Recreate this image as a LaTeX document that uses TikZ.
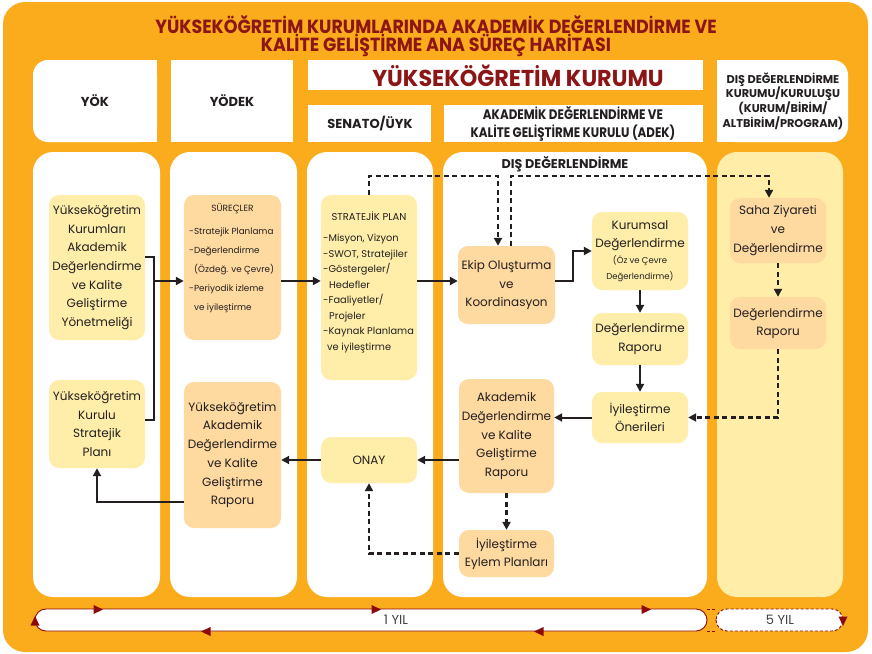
\documentclass[tikz,border=0pt]{standalone}
\usepackage{fontspec}
\setmainfont{Poppins}
\newfontfamily\condfont{Poppins}[FakeStretch=0.86]
\newfontfamily\titlefont{Poppins}[FakeStretch=0.92]
\newfontfamily\kurumfont{Poppins}[FakeStretch=0.97]
\usetikzlibrary{arrows.meta,calc}
\definecolor{frameor}{HTML}{FAAC1C}
\definecolor{lyel}{HTML}{FFEEAA}
\definecolor{peach}{HTML}{FED9A0}
\definecolor{maroon}{HTML}{8C1515}
\definecolor{dred}{HTML}{8B0A0A}
\definecolor{colv}{HTML}{FFEDA8}
\definecolor{ink}{HTML}{231F20}
\begin{document}
\begin{tikzpicture}[x=1pt,y=-1pt,
  box/.style={rounded corners=10pt, align=center, inner sep=0pt, text=ink, font=\fontsize{12}{18.7}\selectfont},
  ybox/.style={box, fill=lyel},
  pbox/.style={box, fill=peach},
  conn/.style={line width=2pt, draw=ink},
  arr/.style={conn, -{Triangle[length=8pt,width=8pt]}},
  darr/.style={arr, line width=2.4pt, dash pattern=on 5pt off 3.5pt},
  hdr/.style={font=\condfont\bfseries\fontsize{13.8}{18}\selectfont, align=center, text=ink, inner sep=0pt},
  colbox/.style={fill=white, rounded corners=20pt},
  tri/.pic={\fill[dred] (-4.5,-4.5) -- (5,0) -- (-4.5,4.5) -- cycle;},
]
\useasboundingbox (0,0) rectangle (872,653);
% outer frame
\fill[frameor, rounded corners=22pt] (3,2) rectangle (868,652);
% title
\node[font=\titlefont\bfseries\fontsize{19}{17}\selectfont, text=maroon, align=center, inner sep=0pt] (title) at (436,36)
  {YÜKSEKÖĞRETİM KURUMLARINDA AKADEMİK DEĞERLENDİRME VE\\KALİTE GELİŞTİRME ANA SÜREÇ HARİTASI};
% header boxes
\fill[white, rounded corners=15pt] (33,60) rectangle (157,142);
\fill[white] (70,60) rectangle (157,142);
\fill[white] (171,60) rectangle (293,142);
\fill[white] (308,60) rectangle (703,90);
\fill[white] (308,105) rectangle (431,142);
\fill[white] (444,105) rectangle (703,142);
\fill[white, rounded corners=15pt] (717,60) rectangle (848,142);
\fill[white] (717,60) rectangle (790,142);
\node[hdr, font=\bfseries\fontsize{13}{15}\selectfont] (hyok) at (95,101) {YÖK};
\node[hdr, font=\bfseries\fontsize{13}{15}\selectfont] (hyodek) at (232,101) {YÖDEK};
\node[hdr, font=\kurumfont\bfseries\fontsize{23}{24}\selectfont, text=maroon] (hkurum) at (518,76) {YÜKSEKÖĞRETİM KURUMU};
\node[hdr, font=\bfseries\fontsize{13}{15}\selectfont] (hsenato) at (370,124) {SENATO/ÜYK};
\node[hdr] (hadek) at (573,124) {AKADEMİK DEĞERLENDİRME VE\\KALİTE GELİŞTİRME KURULU (ADEK)};
\node[hdr, font=\bfseries\fontsize{11.3}{14.7}\selectfont] (hdis) at (783,101) {DIŞ DEĞERLENDİRME\\KURUMU/KURULUŞU\\(KURUM/BİRİM/\\ALTBİRİM/PROGRAM)};
% columns
\fill[colbox] (33,152) rectangle (160,597);
\fill[colbox] (170,152) rectangle (297,597);
\fill[colbox] (307,152) rectangle (433,597);
\fill[colbox] (443,152) rectangle (707,597);
\fill[colbox, fill=colv] (717,152) rectangle (843,597);
\node[hdr, font=\bfseries\fontsize{12.7}{14}\selectfont] (dislbl) at (565,164) {DIŞ DEĞERLENDİRME};
% column 1
\node[ybox, minimum width=96pt, minimum height=145pt] (A) at (97,267.5)
  {Yükseköğretim\\Kurumları\\Akademik\\Değerlendirme\\ve Kalite\\Geliştirme\\Yönetmeliği};
\node[ybox, minimum width=96pt, minimum height=88pt] (B) at (97,424)
  {Yükseköğretim\\Kurulu\\Stratejik\\Planı};
% column 2
\node[pbox, minimum width=97pt, minimum height=145pt] (S) at (232.5,267.5) {};
\node[inner sep=0pt, text=ink, font=\fontsize{9}{10}\selectfont] (Shead) at (232.5,209) {SÜREÇLER};
\node[inner sep=0pt, text=ink, anchor=west, align=left, font=\fontsize{8.8}{19}\selectfont] (Sitems) at (189,270)
  {-Stratejik Planlama\\-Değerlendirme\\\hspace*{5pt}(Özdeğ. ve Çevre)\\-Periyodik izleme\\\hspace*{5pt}ve iyileştirme};
\node[pbox, minimum width=97pt, minimum height=146pt] (R) at (232.5,455)
  {Yükseköğretim\\Akademik\\Değerlendirme\\ve Kalite\\Geliştirme\\Raporu};
% column 3
\node[ybox, minimum width=96pt, minimum height=185pt] (SP) at (369,287.5) {};
\node[inner sep=0pt, text=ink, font=\fontsize{10}{11}\selectfont] (SPhead) at (369,216) {STRATEJİK PLAN};
\node[inner sep=0pt, text=ink, anchor=west, align=left, font=\fontsize{9.8}{15.5}\selectfont] (SPitems) at (323,293.5)
  {-Misyon, Vizyon\\-SWOT, Stratejiler\\-Göstergeler/\\\hspace*{6pt}Hedefler\\-Faaliyetler/\\\hspace*{6pt}Projeler\\-Kaynak Planlama\\\hspace*{4pt}ve iyileştirme};
\node[ybox, minimum width=96pt, minimum height=46pt] (ONAY) at (369,460) {ONAY};
% column 4
\node[pbox, minimum width=97pt, minimum height=78pt] (Ekip) at (506.5,285) {Ekip Oluşturma\\ve\\Koordinasyon};
\node[ybox, minimum width=96pt, minimum height=78pt, font=\fontsize{12}{18}\selectfont] (Kurumsal) at (640,251)
  {Kurumsal\\Değerlendirme\\[-1.5pt]{\fontsize{8.5}{18}\selectfont (Öz ve Çevre}\\[-2pt]{\fontsize{8.5}{18}\selectfont Değerlendirme)}};
\node[ybox, minimum width=96pt, minimum height=52pt] (DR) at (640,339) {Değerlendirme\\Raporu};
\node[ybox, minimum width=96pt, minimum height=51pt] (IO) at (640,417.5) {İyileştirme\\Önerileri};
\node[pbox, minimum width=95pt, minimum height=114pt] (AK) at (506.5,436)
  {Akademik\\Değerlendirme\\ve Kalite\\Geliştirme\\Raporu};
\node[pbox, minimum width=95pt, minimum height=47pt, font=\fontsize{12}{18}\selectfont] (IEP) at (506.5,553.5) {İyileştirme\\Eylem Planları};
% column 5
\node[pbox, minimum width=96pt, minimum height=65pt] (Saha) at (778,230.5) {Saha Ziyareti\\ve\\Değerlendirme};
\node[pbox, minimum width=96pt, minimum height=52pt, font=\fontsize{12}{18}\selectfont] (DR2) at (778,323) {Değerlendirme\\Raporu};
% connectors
\coordinate (jA) at (154,281);
\coordinate (dl) at (0,176);
\draw[conn] ($(A.east)+(0,-10.5)$) -| (jA);
\draw[conn] ($(B.east)+(0,-4)$) -| (jA);
\draw[arr] (jA) -- (jA -| S.west);
\draw[arr] (jA -| S.east) -- (jA -| SP.west);
\draw[arr] (jA -| SP.east) -- (jA -| Ekip.west);
\draw[arr] (jA -| Ekip.east) -- ++(18,0) |- (Kurumsal.west);
\draw[arr] (Kurumsal.south) -- (DR.north);
\draw[arr] (DR.south) -- (IO.north);
\draw[arr] (IO.west) -- (IO.west -| AK.east);
\draw[arr] (AK.west |- ONAY.east) -- (ONAY.east);
\draw[arr] (ONAY.west) -- (ONAY.west -| R.east);
\draw[arr] ($(R.west)+(0,47)$) -| (B.south);
\draw[darr] (AK.south) -- (IEP.north);
\draw[darr] (IEP.west) -| (ONAY.south);
\draw[darr] (SP.north) -- (SP.north |- dl) -| ([xshift=-8.5pt]Ekip.north);
\draw[darr] ([xshift=4.5pt]Ekip.north) -- ([xshift=4.5pt]Ekip.north |- dl) -| ([xshift=-9pt]Saha.north);
\draw[darr] (Saha.south) -- (DR2.north);
\draw[darr] (DR2.south) |- (IO.east);
% timeline
\draw[dred, line width=0.9pt, fill=white, rounded corners=11pt] (35,609) rectangle (707,631);
\draw[dred, line width=0.9pt, fill=white, dash pattern=on 3pt off 2pt, rounded corners=11pt] (716,609) rectangle (843,631);
\draw[dred, line width=0.9pt, dash pattern=on 3pt off 2pt] (707,609) -- (716,609);
\draw[dred, line width=0.9pt, dash pattern=on 3pt off 2pt] (707,631) -- (716,631);
\node[inner sep=0pt, text=ink!85, font=\fontsize{13}{14}\selectfont] (yil1) at (396,620) {1 YIL};
\node[inner sep=0pt, text=ink!85, font=\fontsize{13}{14}\selectfont] (yil5) at (780,620) {5 YIL};
\pic at (98,609.5) {tri};
\pic at (376,609.5) {tri};
\pic at (646,609.5) {tri};
\pic[rotate=180] at (206,631.5) {tri};
\pic[rotate=180] at (539,631.5) {tri};
\pic[rotate=90] at (35,621) {tri};
\pic[rotate=-90] at (843,621) {tri};
\end{tikzpicture}
\end{document}
